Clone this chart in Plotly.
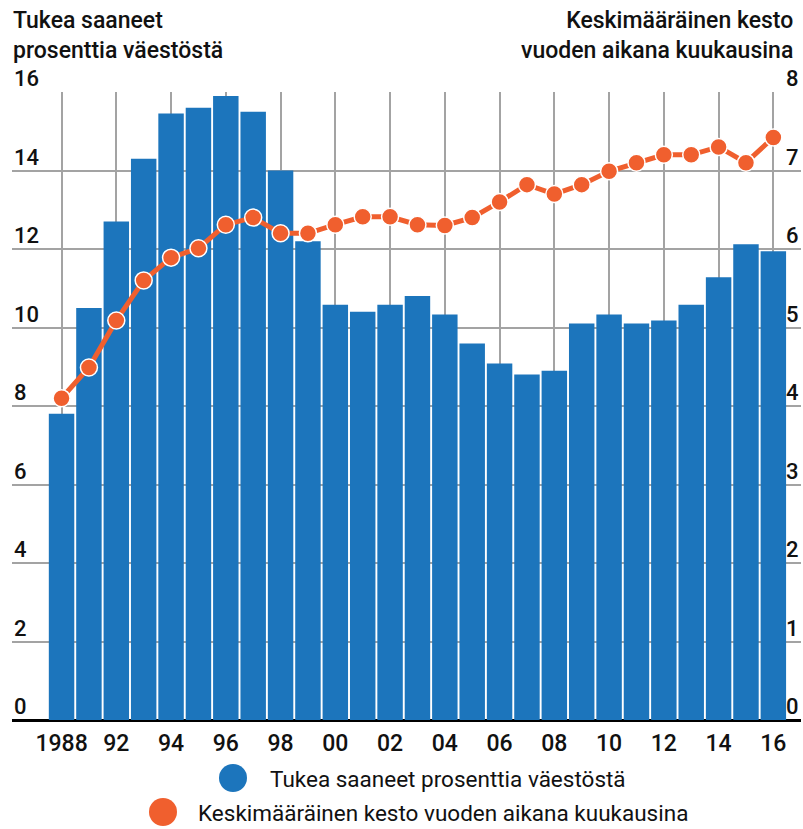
import plotly.graph_objects as go

# ---- data ----
years = list(range(1990, 2017))
tick_years = list(range(1990, 2017, 2))
tick_labels = ["1988", "92", "94", "96", "98", "00", "02", "04", "06", "08",
               "10", "12", "14", "16"]
share_pct = [7.8, 10.5, 12.7, 14.3, 15.45, 15.6, 15.9, 15.5, 14.0, 12.2,
             10.58, 10.4, 10.58, 10.8, 10.33, 9.59, 9.08, 8.8, 8.9, 10.1,
             10.33, 10.1, 10.18, 10.58, 11.28, 12.12, 11.94]
duration_months = [4.1, 4.49, 5.09, 5.6, 5.89, 6.01, 6.31, 6.4, 6.2, 6.2,
                   6.31, 6.41, 6.41, 6.31, 6.3, 6.4, 6.6, 6.82, 6.7, 6.82,
                   6.99, 7.1, 7.2, 7.2, 7.3, 7.1, 7.42]
left_ticks = [0, 2, 4, 6, 8, 10, 12, 14, 16]
right_ticks = [0, 1, 2, 3, 4, 5, 6, 7, 8]
name_bar = "Tukea saaneet prosenttia väestöstä"
name_line = "Keskimääräinen kesto vuoden aikana kuukausina"
title_left = "Tukea saaneet<br>prosenttia väestöstä"
title_right = "Keskimääräinen kesto<br>vuoden aikana kuukausina"

BLUE = "#1c75bc"
ORANGE = "#f05f2e"
GRID = "#a3a3a3"
TXT = "#111111"
FONT = "Roboto"

W, H = 803, 829
ML, MR, MT, MB = 12, 2, 92, 109
PW, PH = W - ML - MR, H - MT - MB


def px(x):
    return (x - ML) / PW


def py(y):
    return (H - MB - y) / PH


fig = go.Figure()
fig.add_trace(go.Bar(x=years, y=share_pct, name=name_bar, marker=dict(color=BLUE, line=dict(width=0)),
                     showlegend=False, hoverinfo="skip"))
fig.add_trace(go.Scatter(x=years, y=duration_months, name=name_line, yaxis="y2", mode="lines+markers",
                         line=dict(color=ORANGE, width=5),
                         marker=dict(color=ORANGE, size=17, line=dict(color="white", width=1.5)),
                         showlegend=False, hoverinfo="skip"))

fig.update_layout(
    width=W, height=H,
    margin=dict(l=ML, r=MR, t=MT, b=MB, pad=0),
    paper_bgcolor="white", plot_bgcolor="white",
    font=dict(family=FONT, size=21, color=TXT),
    bargap=0.07,
    showlegend=False,
    xaxis=dict(range=[1988.19, 2017.01], tickmode="array", tickvals=tick_years, ticktext=tick_labels,
               showgrid=True, gridcolor=GRID, gridwidth=1.5, zeroline=False, showline=False,
               ticks="", tickfont=dict(size=23, weight=500), ticklabelstandoff=7, fixedrange=True),
    yaxis=dict(range=[0, 16], tickmode="array", tickvals=left_ticks, showgrid=True, gridcolor=GRID,
               gridwidth=1.5, zeroline=True, zerolinecolor="#000000", zerolinewidth=2.5,
               showticklabels=False, ticks="", showline=False, fixedrange=True),
    yaxis2=dict(range=[0, 8], tickmode="array", tickvals=right_ticks, overlaying="y", side="right",
                showgrid=False, zeroline=False, showticklabels=False, ticks="",
                showline=False, fixedrange=True),
)

# y tick labels sitting on top of the grid lines
for v in left_ticks:
    fig.add_annotation(text=str(v), xref="paper", yref="y", x=0, y=v, xanchor="left", yanchor="bottom",
                       showarrow=False, yshift=-1, font=dict(family=FONT, size=22, weight=500, color=TXT))
for v in right_ticks:
    fig.add_annotation(text=str(v), xref="paper", yref="y2", x=1, y=v, xanchor="right", yanchor="bottom",
                       showarrow=False, yshift=-1, font=dict(family=FONT, size=22, weight=500, color=TXT))

# axis titles
fig.add_annotation(text=title_left, xref="paper", yref="paper", x=px(11), y=py(5), xanchor="left",
                   yanchor="top", align="left", showarrow=False,
                   font=dict(family=FONT, size=23, weight=500, color=TXT))
fig.add_annotation(text=title_right, xref="paper", yref="paper", x=px(795), y=py(5), xanchor="right",
                   yanchor="top", align="right", showarrow=False,
                   font=dict(family=FONT, size=23, weight=500, color=TXT))

# legend (manual, large circles)
legend_items = [(name_bar, BLUE, 233, 268, 778), (name_line, ORANGE, 163, 196, 812)]
for label, col, cx, tx, cy in legend_items:
    fig.add_shape(type="circle", xref="paper", yref="paper", xsizemode="pixel", ysizemode="pixel",
                  xanchor=px(cx), yanchor=py(cy), x0=-14, x1=14, y0=-14, y1=14,
                  fillcolor=col, line=dict(width=0))
    fig.add_annotation(text=label, xref="paper", yref="paper", x=px(tx), y=py(cy + 1), xanchor="left",
                       yanchor="middle", showarrow=False,
                       font=dict(family=FONT, size=22.5, color=TXT))

fig.write_html("out.html", config={"displayModeBar": False},
               post_script="document.body.style.margin='0';document.body.style.overflow='hidden';")
